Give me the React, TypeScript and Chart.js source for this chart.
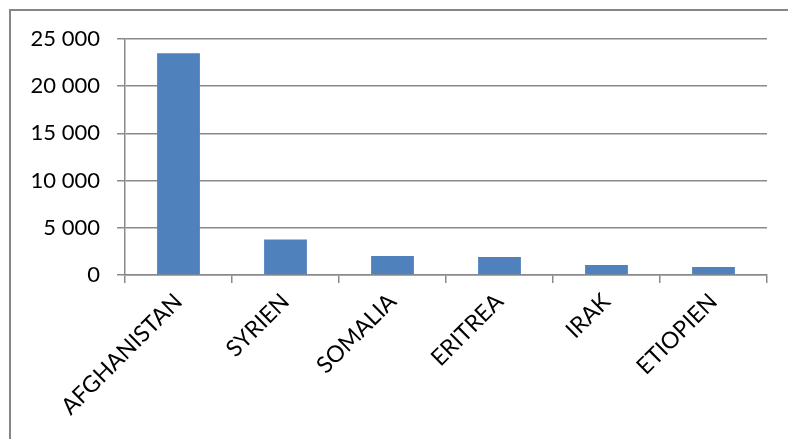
import React, { useEffect, useRef } from "react";
import { Chart, registerables } from "chart.js";

Chart.register(...registerables);

const categories = ["AFGHANISTAN", "SYRIEN", "SOMALIA", "ERITREA", "IRAK", "ETIOPIEN"];
const values = [23500, 3750, 2020, 1900, 1060, 850];
const yTicks = [0, 5000, 10000, 15000, 20000, 25000];

const fmt = (v: number) => String(v).replace(/\B(?=(\d{3})+(?!\d))/g, " ");

export default function App() {
  const ref = useRef<HTMLCanvasElement | null>(null);
  useEffect(() => {
    document.body.style.margin = "0";
    const ctx = ref.current!;
    const gridColor = "#8a8a8a";
    const chart = new Chart(ctx, {
      type: "bar",
      data: {
        labels: categories,
        datasets: [
          {
            data: values,
            backgroundColor: "#4F81BD",
            borderWidth: 0,
            categoryPercentage: 1,
            barPercentage: 0.4,
          },
        ],
      },
      options: {
        animation: false,
        responsive: false,
        maintainAspectRatio: false,
        layout: { padding: { top: 39, right: 21, left: 0, bottom: 0 } },
        plugins: { legend: { display: false }, tooltip: { enabled: false } },
        scales: {
          x: {
            grid: {
              display: true,
              drawOnChartArea: false,
              drawTicks: true,
              tickLength: 8,
              color: gridColor,
              lineWidth: 1.5,
              offset: true,
            },
            border: { display: true, color: gridColor, width: 1.5 },
            ticks: {
              maxRotation: 45,
              minRotation: 45,
              autoSkip: false,
              padding: 5,
              color: "#000",
              font: { family: "Lato", size: 23 },
            },
            afterFit: (s: any) => {
              s.height = 164;
            },
          },
          y: {
            min: 0,
            max: 25000,
            afterBuildTicks: (s: any) => {
              s.ticks = yTicks.map((v) => ({ value: v }));
            },
            grid: {
              color: gridColor,
              lineWidth: 1.5,
              drawTicks: true,
              tickLength: 8,
            },
            border: { display: true, color: gridColor, width: 1.5 },
            ticks: {
              padding: 17,
              color: "#000",
              font: { family: "Lato", size: 22 },
              callback: (v: any) => fmt(Number(v)),
            },
            afterFit: (s: any) => {
              s.width = 125;
            },
          },
        },
      },
    });
    return () => chart.destroy();
  }, []);
  return (
    <div style={{ position: "relative", width: 788, height: 439, background: "#fff" }}>
      <canvas ref={ref} width={788} height={439} style={{ position: "absolute", left: 0, top: 0 }} />
      <div
        style={{
          position: "absolute",
          left: 9,
          top: 9,
          width: 779,
          height: 430,
          borderTop: "2px solid #868686",
          borderLeft: "2px solid #868686",
          boxSizing: "border-box",
          pointerEvents: "none",
        }}
      />
    </div>
  );
}
